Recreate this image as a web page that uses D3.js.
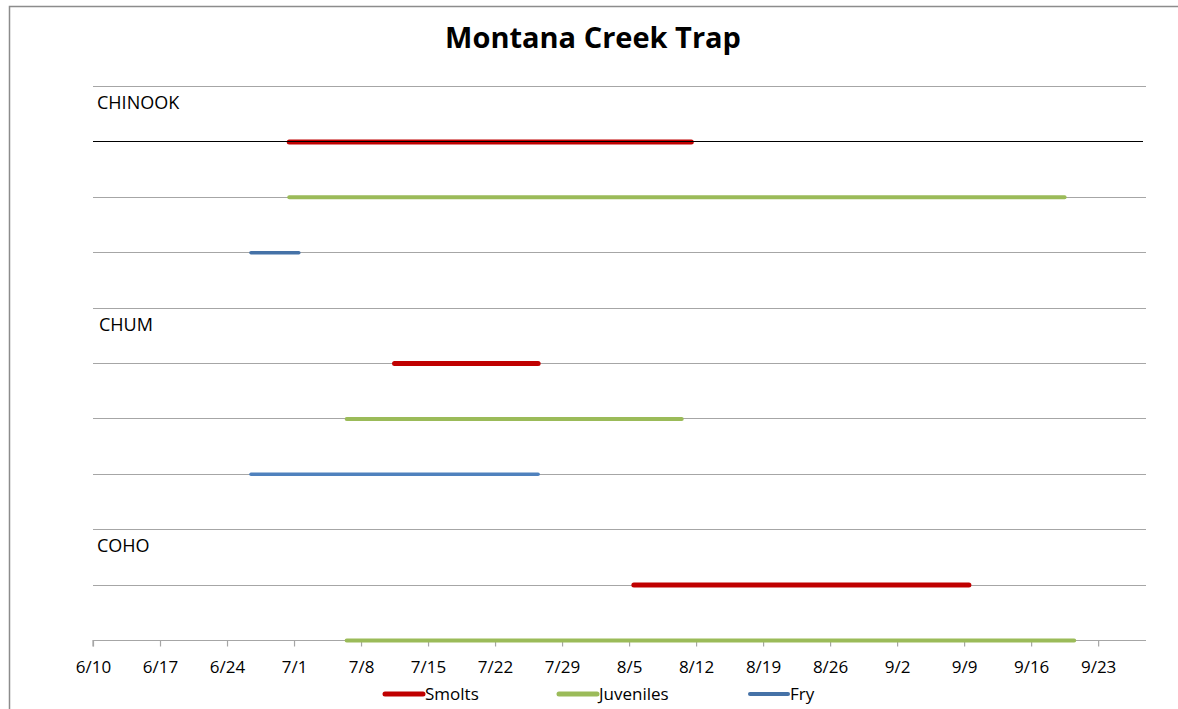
<!DOCTYPE html>
<html>
<head>
<meta charset="utf-8">
<script src="https://cdn.jsdelivr.net/npm/d3@7"></script>
<style>
  body { margin: 0; background: #fff; }
  svg { font-family: "Open Sans", "Noto Sans", sans-serif; }
</style>
</head>
<body>
<svg width="1178" height="709"></svg>
<script>
var svg = d3.select("svg"),
    width = +svg.attr("width"),
    height = +svg.attr("height");

var parse = d3.timeParse("%Y-%m-%d");

// species groups and the life stages plotted under each
var species = ["CHINOOK", "CHUM", "COHO"];
var stages = ["Smolts", "Juveniles", "Fry"];

// start / end of each run
var chinookStart = ["2013-06-30", "2013-06-30", "2013-06-26"];
var chinookEnd   = ["2013-08-11", "2013-09-19", "2013-07-01"];
var chumStart    = ["2013-07-11", "2013-07-06", "2013-06-26"];
var chumEnd      = ["2013-07-26", "2013-08-10", "2013-07-26"];
var cohoStart    = ["2013-08-05", "2013-07-06"];
var cohoEnd      = ["2013-09-09", "2013-09-20"];

var tickDates = ["2013-06-10", "2013-06-17", "2013-06-24", "2013-07-01", "2013-07-08",
                 "2013-07-15", "2013-07-22", "2013-07-29", "2013-08-05", "2013-08-12",
                 "2013-08-19", "2013-08-26", "2013-09-02", "2013-09-09", "2013-09-16",
                 "2013-09-23"];

var stageColor = { Smolts: "#C00000", Juveniles: "#9BBB59", Fry: "#4572A7" };
var stageWidth = { Smolts: 5, Juveniles: 4, Fry: 3.5 };

// build the segment list
var segments = [];
function addGroup(g, starts, ends) {
  starts.forEach(function(s, i) {
    segments.push({
      species: species[g], stage: stages[i],
      row: g * 4 + 1 + i,
      start: parse(s), end: parse(ends[i])
    });
  });
}
addGroup(0, chinookStart, chinookEnd);
addGroup(1, chumStart, chumEnd);
addGroup(2, cohoStart, cohoEnd);

var x = d3.scaleTime()
    .domain([parse("2013-06-10"), parse("2013-09-28")])
    .range([93, 1146]);

var y = d3.scaleLinear()
    .domain([0, 10])
    .range([86, 640]);

// chart border
svg.append("path")
    .attr("d", "M9.5," + height + "V6.5H" + width)
    .attr("fill", "none")
    .attr("stroke", "#8c8c8c")
    .attr("stroke-width", 1.5);

// title
svg.append("text")
    .attr("x", 593)
    .attr("y", 48)
    .attr("text-anchor", "middle")
    .style("font-weight", "bold")
    .style("font-size", "29px")
    .text("Montana Creek Trap");

// horizontal gridlines
svg.append("g")
    .selectAll("line")
    .data(d3.range(0, 10))
    .enter().append("line")
      .attr("x1", x.range()[0])
      .attr("x2", x.range()[1])
      .attr("y1", function(d) { return Math.round(y(d)) + 0.5; })
      .attr("y2", function(d) { return Math.round(y(d)) + 0.5; })
      .attr("stroke", function(d) { return d === 1 ? "none" : "#a6a6a6"; })
      .attr("stroke-width", 1.2);

// species labels
svg.append("g")
    .selectAll("text")
    .data(species)
    .enter().append("text")
      .attr("x", function(d, i) { return i === 1 ? 99 : 97; })
      .attr("y", function(d, i) { return y(i * 4) + 23; })
      .style("font-size", "18px")
      .attr("fill", "#000")
      .text(function(d) { return d; });

// x axis (sits on the last row)
var axis = svg.append("g")
    .attr("transform", "translate(0," + (Math.round(y(10)) + 0.5) + ")")
    .call(d3.axisBottom(x)
      .tickValues(tickDates.map(parse))
      .tickFormat(d3.timeFormat("%-m/%-d"))
      .tickSize(6)
      .tickPadding(14));
axis.select(".domain").attr("stroke", "#a6a6a6").attr("stroke-width", 1.2)
    .attr("d", "M" + x.range()[0] + ",6V0H" + x.range()[1]);
axis.selectAll(".tick line").attr("stroke", "#a6a6a6").attr("stroke-width", 1.2);
axis.selectAll(".tick text")
    .style("font-family", "'Open Sans', sans-serif")
    .style("font-size", "17px")
    .attr("fill", "#000");

// runs; each point sits at the middle of its day
function mid(d) { return x(d3.timeHour.offset(d, 12)); }

svg.append("g")
    .selectAll("line")
    .data(segments)
    .enter().append("line")
      .attr("x1", function(d) { return mid(d.start); })
      .attr("x2", function(d) { return mid(d.end); })
      .attr("y1", function(d) { return y(d.row) + 0.5; })
      .attr("y2", function(d) { return y(d.row) + 0.5; })
      .attr("stroke", function(d) {
        if (d.species === "CHUM" && d.stage === "Fry") return "#4F81BD";
        return stageColor[d.stage];
      })
      .attr("stroke-width", function(d) { return stageWidth[d.stage]; })
      .attr("stroke-linecap", "round");

// the black line running through the chinook smolt row
svg.append("line")
    .attr("x1", x.range()[0])
    .attr("x2", x.range()[1] - 3)
    .attr("y1", Math.round(y(1)) + 0.5)
    .attr("y2", Math.round(y(1)) + 0.5)
    .attr("stroke", "#000")
    .attr("stroke-width", 1.2);

// legend
var legendX = [383, 557, 748];
var legend = svg.append("g")
    .selectAll("g")
    .data(stages)
    .enter().append("g")
      .attr("transform", function(d, i) { return "translate(" + legendX[i] + ",694)"; });

legend.append("line")
    .attr("x1", 2).attr("x2", 40)
    .attr("stroke", function(d) { return stageColor[d]; })
    .attr("stroke-width", function(d) { return d === "Fry" ? 4 : 5; })
    .attr("stroke-linecap", "round");

legend.append("text")
    .attr("x", 42)
    .attr("y", 6)
    .style("font-size", "17px")
    .text(function(d) { return d; });
</script>
</body>
</html>
